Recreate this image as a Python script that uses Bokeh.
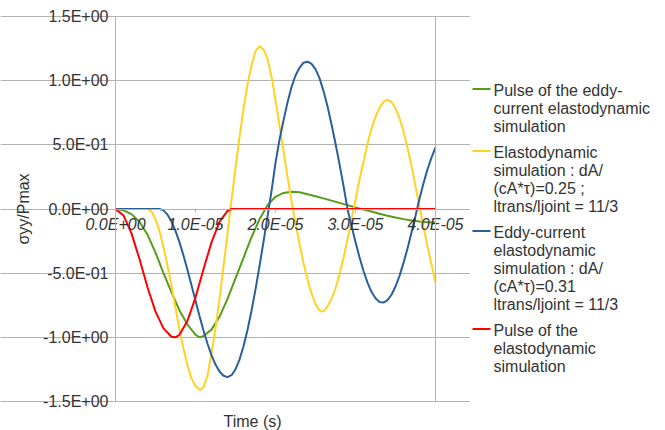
from bokeh.plotting import figure
from bokeh.layouts import row
from bokeh.models import (FixedTicker, CustomJSTickFormatter, Range1d, LinearAxis,
                          Label)
from bokeh.core.properties import value
from bokeh.embed import file_html
from bokeh.resources import INLINE

# Time values below are in units of 1e-5 s
TIME_UNIT = 1e-5

green_t = [0, 0.1, 0.2, 0.3, 0.4, 0.5, 0.6, 0.7, 0.8, 0.9, 1.0, 1.05, 1.1, 1.2, 1.3, 1.4,
           1.5, 1.6, 1.7, 1.8, 1.9, 2.0, 2.1, 2.2, 2.3, 2.4, 2.5, 2.6, 2.7, 2.8, 2.9,
           3.0, 3.1, 3.2, 3.3, 3.4, 3.5, 3.6, 3.7, 3.8, 3.9, 4.0]
green_v = [0, -0.01, -0.04, -0.10, -0.20, -0.34, -0.50, -0.65, -0.79, -0.90, -0.98, -1.0,
           -0.99, -0.94, -0.84, -0.70, -0.54, -0.38, -0.22, -0.08, 0.03, 0.095, 0.125, 0.135,
           0.13, 0.115, 0.10, 0.083, 0.065, 0.048, 0.03, 0.012, -0.005, -0.02, -0.037,
           -0.052, -0.066, -0.079, -0.09, -0.098, -0.103, -0.105]

yellow_t = [0, 0.1, 0.2, 0.3, 0.4, 0.45, 0.5, 0.55, 0.6, 0.65, 0.7, 0.75, 0.8, 0.85,
            0.9, 0.95, 1.0, 1.06, 1.1, 1.15, 1.2, 1.25, 1.3, 1.35, 1.4, 1.45, 1.5, 1.55,
            1.6, 1.65, 1.7, 1.75, 1.8, 1.85, 1.9, 1.95, 2.0, 2.05, 2.1, 2.15, 2.2, 2.25,
            2.3, 2.35, 2.4, 2.45, 2.5, 2.55, 2.6, 2.65, 2.7, 2.75, 2.8, 2.85, 2.9, 2.95,
            3.0, 3.05, 3.1, 3.15, 3.2, 3.25, 3.3, 3.35, 3.4, 3.45, 3.5, 3.55, 3.6, 3.65,
            3.7, 3.75, 3.8, 3.85, 3.9, 3.95, 4.0]
yellow_v = [0, 0, 0, 0, 0, -0.02, -0.08, -0.17, -0.30, -0.44, -0.60, -0.77, -0.94,
            -1.09, -1.22, -1.32, -1.38, -1.41, -1.39, -1.30, -1.12, -0.93, -0.70, -0.45,
            -0.19, 0.07, 0.32, 0.56, 0.78, 0.97, 1.12, 1.23, 1.27, 1.245, 1.17, 1.03, 0.85,
            0.65, 0.45, 0.25, 0.06, -0.11, -0.27, -0.42, -0.55, -0.66, -0.74, -0.79, -0.80,
            -0.76, -0.70, -0.62, -0.51, -0.38, -0.24, -0.08, 0.07, 0.23, 0.37, 0.51, 0.625,
            0.72, 0.79, 0.835, 0.85, 0.834, 0.786, 0.708, 0.604, 0.478, 0.334, 0.178,
            0.018, -0.141, -0.293, -0.432, -0.57]

blue_t = [0, 0.3, 0.55, 0.6, 0.65, 0.7, 0.75, 0.8, 0.85, 0.9, 0.95, 1.0, 1.05, 1.1,
          1.15, 1.2, 1.25, 1.3, 1.35, 1.4, 1.45, 1.5, 1.55, 1.6, 1.65, 1.7, 1.75, 1.8,
          1.85, 1.9, 1.95, 2.0, 2.05, 2.1, 2.15, 2.2, 2.25, 2.3, 2.35, 2.4, 2.45, 2.5,
          2.55, 2.6, 2.65, 2.7, 2.75, 2.8, 2.85, 2.9, 2.95, 3.0, 3.05, 3.1, 3.15, 3.2,
          3.25, 3.3, 3.35, 3.4, 3.45, 3.5, 3.55, 3.6, 3.65, 3.7, 3.75, 3.8, 3.85, 3.9,
          3.95, 4.0]
blue_v = [0, 0, 0, -0.011, -0.044, -0.098, -0.171, -0.26, -0.363, -0.476, -0.594, -0.715,
          -0.834, -0.947, -1.05, -1.139, -1.212, -1.266, -1.299, -1.31, -1.295, -1.249,
          -1.173, -1.07, -0.943, -0.793, -0.626, -0.445, -0.255, -0.06, 0.14, 0.36, 0.54,
          0.69, 0.83, 0.95, 1.04, 1.10, 1.14, 1.148, 1.13, 1.09, 1.02, 0.92, 0.80, 0.66,
          0.51, 0.35, 0.18, 0.0, -0.131, -0.258, -0.376, -0.483, -0.573, -0.645, -0.696,
          -0.724, -0.729, -0.71, -0.668, -0.604, -0.521, -0.42, -0.307, -0.183, -0.053,
          0.08, 0.20, 0.31, 0.40, 0.48]

red_t = [0, 0.1, 0.2, 0.3, 0.4, 0.5, 0.6, 0.7, 0.75, 0.8, 0.9, 1.0, 1.1, 1.2, 1.3, 1.4,
         1.45, 4.0]
red_v = [0, -0.05, -0.19, -0.39, -0.61, -0.80, -0.93, -0.995, -1.0, -0.98, -0.87, -0.69,
         -0.47, -0.26, -0.10, -0.015, 0, 0]

series_label_lines = [
    ["Pulse of the eddy-", "current elastodynamic", "simulation"],
    ["Elastodynamic", "simulation : dA/", "(cA*\u03c4)=0.25 ;", "ltrans/ljoint = 11/3"],
    ["Eddy-current", "elastodynamic", "simulation : dA/", "(cA*\u03c4)=0.31",
     "ltrans/ljoint = 11/3"],
    ["Pulse of the", "elastodynamic", "simulation"],
]
series_colors = ["#579d1c", "#ffd320", "#2a6099", "#ff0000"]

x_ticks = [0.0, 1e-5, 2e-5, 3e-5, 4e-5]
y_ticks = [-1.5, -1.0, -0.5, 0.0, 0.5, 1.0, 1.5]
x_title = "Time (s)"
y_title = "\u03c3yy/Pmax"

X_MIN, X_MAX = 0.0, 4e-5
Y_MIN, Y_MAX = -1.5, 1.5

FONT = "Liberation Sans"
GRID = "#b3b3b3"
TXT = "#333333"

# ---------------- geometry (pixels) ----------------
MAIN_W, H = 470, 430
PLOT_L, PLOT_R, PLOT_T, PLOT_B = 115, 435, 16, 401   # plot-area box in the canvas

sx = (X_MAX - X_MIN) / (PLOT_R - PLOT_L)   # data per px
sy = (Y_MAX - Y_MIN) / (PLOT_B - PLOT_T)
x_range = Range1d(X_MIN - PLOT_L * sx, X_MAX + (MAIN_W - PLOT_R) * sx)
y_range = Range1d(Y_MIN - (H - PLOT_B) * sy, Y_MAX + PLOT_T * sy)

p = figure(frame_width=MAIN_W, frame_height=H, x_range=x_range, y_range=y_range,
           output_backend="svg", toolbar_location=None, title=None, min_border=0)
p.outline_line_color = None
p.background_fill_color = "white"
p.border_fill_color = "white"

fmt = CustomJSTickFormatter(code="""
const s = tick.toExponential(1).split('e');
let e = parseInt(s[1]);
const sign = e < 0 ? '-' : '+';
e = Math.abs(e);
return s[0] + 'E' + sign + (e < 10 ? '0' : '') + e;
""")

p.xgrid.visible = False
p.ygrid.ticker = FixedTicker(ticks=y_ticks)
p.ygrid.grid_line_color = GRID
p.ygrid.bounds = (X_MIN, X_MAX)

xa = p.xaxis[0]
xa.fixed_location = 0
xa.bounds = (X_MIN, X_MAX)
xa.ticker = FixedTicker(ticks=x_ticks)
xa.formatter = fmt
xa.major_label_text_font = FONT
xa.major_label_text_font_size = "16px"
xa.major_label_text_font_style = "italic"
xa.major_label_text_color = TXT
xa.axis_line_color = GRID
xa.major_tick_line_color = GRID
xa.major_tick_in = 0
xa.major_tick_out = 3
xa.minor_tick_line_color = None
xa.major_label_standoff = 4

ya = p.yaxis[0]
ya.fixed_location = X_MIN
ya.bounds = (Y_MIN, Y_MAX)
ya.ticker = FixedTicker(ticks=y_ticks)
ya.formatter = fmt
ya.major_label_text_font = FONT
ya.major_label_text_font_size = "16px"
ya.major_label_text_color = TXT
ya.axis_line_color = GRID
ya.major_tick_line_color = GRID
ya.major_tick_in = 0
ya.major_tick_out = 3
ya.minor_tick_line_color = None
ya.major_label_standoff = 4
ya.axis_label = y_title
ya.axis_label_text_font = FONT
ya.axis_label_text_font_size = "16px"
ya.axis_label_text_font_style = "normal"
ya.axis_label_text_color = TXT
ya.axis_label_standoff = 8

# right border of the plot area
ra = LinearAxis(fixed_location=X_MAX, bounds=(Y_MIN, Y_MAX), ticker=FixedTicker(ticks=[]),
                axis_line_color=GRID, major_tick_line_color=None,
                minor_tick_line_color=None, major_label_text_alpha=0)
p.add_layout(ra, "right")

series = [(green_t, green_v), (yellow_t, yellow_v), (blue_t, blue_v), (red_t, red_v)]
for (ts, vs), col in zip(series, series_colors):
    p.line(x=[t * TIME_UNIT for t in ts], y=vs, line_color=col, line_width=2)

p.add_layout(Label(x=223, y=H - 421, x_units="screen", y_units="screen", text=x_title,
                   text_font=FONT, text_font_size="16px", text_color=TXT,
                   text_baseline="middle", text_align="left"))

# ---------------- legend panel ----------------
LEG_W = 665 - MAIN_W
SW_X0, SW_X1, TXT_X = 2, 20, 23      # swatch and text x (px in panel)
FIRST_Y, PITCH, GAP = 90, 18, 8      # line centres (px from top)

sw_x0, sw_x1, sw_y, sw_c = [], [], [], []
tx, ty, tt = [], [], []
y = FIRST_Y
for lines, col in zip(series_label_lines, series_colors):
    sw_x0.append(SW_X0); sw_x1.append(SW_X1); sw_y.append(y - 1.5); sw_c.append(col)
    for ln in lines:
        tx.append(TXT_X); ty.append(y); tt.append(ln)
        y += PITCH
    y += GAP

lp = figure(frame_width=LEG_W, frame_height=H, x_range=Range1d(0, LEG_W),
            y_range=Range1d(H, 0), output_backend="svg", toolbar_location=None,
            title=None, x_axis_type=None, y_axis_type=None, min_border=0)
lp.outline_line_color = None
lp.grid.visible = False
lp.background_fill_color = "white"
lp.border_fill_color = "white"
lp.segment(x0=sw_x0, y0=sw_y, x1=sw_x1, y1=sw_y, line_color=sw_c, line_width=2)
lp.text(x=tx, y=ty, text=tt, text_font=value(FONT), text_font_size="16px",
        text_color=TXT, text_baseline="middle", text_align="left")

layout = row(p, lp, spacing=0)
open("out.html", "w").write(file_html(layout, INLINE))
